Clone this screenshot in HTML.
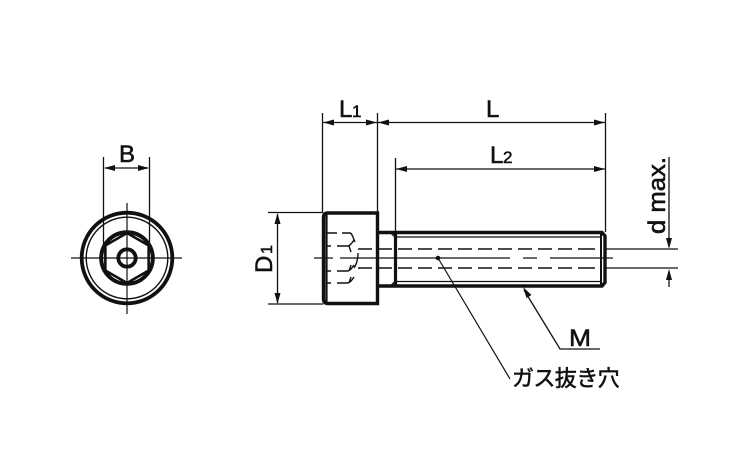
<!DOCTYPE html>
<html>
<head>
<meta charset="utf-8">
<style>
html,body{margin:0;padding:0;background:#fff;width:750px;height:450px;overflow:hidden}
svg{display:block}
text{font-family:"Liberation Sans","Noto Sans CJK JP",sans-serif;fill:#111;stroke:#111;stroke-width:.55}
</style>
</head>
<body>
<svg width="750" height="450" viewBox="0 0 750 450" xmlns="http://www.w3.org/2000/svg">
<g fill="none" stroke="#111">
<!-- Left view -->
<circle cx="127" cy="258" r="45.3" stroke-width="3.8"/>
<circle cx="127" cy="258" r="40.8" stroke-width="1.4"/>
<circle cx="127" cy="258" r="25.8" stroke-width="4"/>
<path d="M127 233L148.650 245.500V270.500L127 283L105.350 270.500V245.500Z" stroke-width="2.600"/>
<circle cx="127" cy="258" r="8.700" stroke-width="3.800"/>
<path d="M71 258H182M127 203V314" stroke-width="1.200"/>
<path d="M103.500 157V246M149.500 157V246" stroke-width="1.300"/>
<path d="M105 168H148" stroke-width="1.300"/>

<!-- Head -->
<path d="M328 213H377.500V303.500H328Q323.500 303.500 323.500 299V217.500Q323.500 213 328 213Z" stroke-width="3.400"/>
<path d="M326.500 214V303" stroke-width="2.200"/>
<!-- Shank -->
<path d="M378 232.500H602L605 236V282.500L602 286H378" stroke-width="3.400"/>
<path d="M395.500 233V285.500" stroke-width="3.200"/>
<path d="M601 234V284.500" stroke-width="2"/>
<path d="M397 237H600M397 281.500H600" stroke-width="1.200"/>
<path d="M391 233L395 237M391 285.500L395 281.500" stroke-width="1.500"/>

<!-- Socket hidden lines -->
<g stroke-width="1.400">
<path d="M327 233H337M342 233H350C352 233 353 238 355 242"/>
<path d="M327 246H331M337 246H347C350 246 352 243 354 240M349 246L351 252"/>
<path d="M327 271H331M337 271H347C350 271 352 268 354 265M349 271L351 265"/>
<path d="M327 283H331M337 283H347C350 283 352 280 354 277M349 283L351 277"/>
<path d="M358 249H372M358 268H372"/>
<path d="M358 253Q358 262 354 268"/>
</g>

<!-- Centre and dashes -->
<path d="M314 258H333M340 258H406" stroke-width="1.200"/>
<path d="M378 249H392M398 249H412M418 249H432M438 249H452M458 249H472M478 249H492M498 249H512M518 249H532M538 249H552M558 249H572M578 249H595" stroke-width="1.500"/>
<path d="M378 268H392M398 268H412M418 268H432M438 268H452M458 268H472M478 268H492M498 268H512M518 268H532M538 268H552M558 268H572M578 268H595" stroke-width="1.500"/>
<path d="M406 258H510M523 258H537M550 258H613" stroke-width="1.200"/>

<!-- Extension lines -->
<path d="M606 249H678M606 268H678" stroke-width="1.200"/>
<path d="M322.500 113V213M377.500 113V232M395.500 158V233M605.500 113V232" stroke-width="1.300"/>
<path d="M322 122.500H605M396 169H605" stroke-width="1.300"/>
<path d="M268 212.500H323M268 304H323" stroke-width="1.300"/>
<path d="M277.500 214V303" stroke-width="1.300"/>
<path d="M669 157V245M669 272V287" stroke-width="1.300"/>

<!-- Leaders -->
<path d="M438 258L510 379" stroke-width="1.200"/>
<path d="M524 290L560 349H600" stroke-width="1.300"/>
</g>

<!-- Arrowheads -->
<g fill="#111">
<path d="M104 168L115 165V171Z"/>
<path d="M149 168L138 165V171Z"/>
<path d="M323 122.500L334 119.500V125.500Z"/>
<path d="M377 122.500L366 119.500V125.500Z"/>
<path d="M378 122.500L389 119.500V125.500Z"/>
<path d="M605 122.500L594 119.500V125.500Z"/>
<path d="M396 169L407 166V172Z"/>
<path d="M605 169L594 166V172Z"/>
<path d="M277.500 213L274.500 224H280.500Z"/>
<path d="M277.500 304L274.500 293H280.500Z"/>
<path d="M669 249L666 238H672Z"/>
<path d="M669 269L666 280H672Z"/>
<path d="M523 287L526.500 298L531.500 295Z"/>
<circle cx="438" cy="258" r="2.300"/>
</g>

<!-- Labels -->
<text x="119" y="162" font-size="24">B</text>
<text x="339" y="117" font-size="24">L</text>
<text x="352" y="117" font-size="17">1</text>
<text x="486" y="117" font-size="24">L</text>
<text x="490" y="163" font-size="24">L</text>
<text x="503" y="163" font-size="17">2</text>
<text transform="translate(272,273) rotate(-90)" font-size="24">D</text>
<text transform="translate(272,254) rotate(-90)" font-size="16">1</text>
<text transform="translate(665,234) rotate(-90)" font-size="24" textLength="77" lengthAdjust="spacingAndGlyphs">d max.</text>
<text x="569" y="346" font-size="24" textLength="22" lengthAdjust="spacingAndGlyphs">M</text>
<text x="512" y="386" font-size="22" letter-spacing="-0.600">ガス抜き穴</text>
</svg>
</body>
</html>
